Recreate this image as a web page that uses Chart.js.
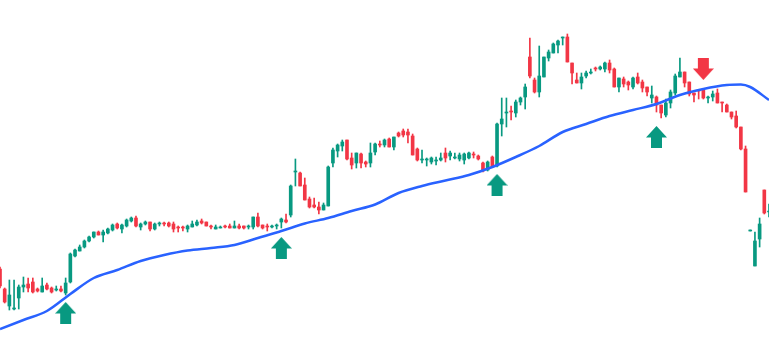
<!DOCTYPE html>
<html>
<head>
<meta charset="utf-8">
<script src="https://cdn.jsdelivr.net/npm/chart.js@4.4.1/dist/chart.umd.min.js"></script>
<style>
  html, body { margin: 0; padding: 0; background: #fff; }
  #wrap { width: 769px; height: 356px; position: relative; }
</style>
</head>
<body>
<div id="wrap"><canvas id="priceChart"></canvas></div>
<script>
// candle data, one entry per session
const opens = [
  87, 67, 50, 47, 58, 69, 72, 74, 67, 64,
  71, 68, 66, 67, 63, 74, 100, 105, 109, 115,
  119, 124, 121, 123, 126, 132, 127, 130, 135, 138,
  129, 132, 134, 127, 132, 133, 133, 132, 129, 129,
  127, 129, 131, 135, 134, 130, 127, 128, 130, 130,
  128, 130, 130, 129, 129, 139, 131, 130, 129, 130,
  134, 136, 141, 184, 183, 171, 157, 151, 149, 146,
  150, 193, 205, 210, 216, 198, 193, 202, 194, 193,
  204, 212, 211, 217, 209, 223, 225, 224, 220, 207,
  196, 196, 194, 195, 196, 203, 200, 198, 197, 196,
  198, 202, 200, 193, 186, 199, 190, 232, 243, 245,
  243, 254, 259, 299, 276, 264, 279, 298, 303, 311,
  318, 319, 293, 276, 273, 280, 283, 288, 287, 287,
  293, 287, 269, 277, 274, 269, 279, 274, 269, 258,
  259, 251, 241, 253, 263, 279, 284, 274, 263, 266,
  266, 258, 259, 263, 254, 251, 244, 240, 229, 207,
  125, 90, 117, 166, 144
];
const highs = [
  89, 68, 76, 76, 71, 79, 78, 78, 68, 78,
  73, 69, 70, 70, 78, 103, 107, 111, 116, 120,
  124, 125, 126, 128, 132, 133, 132, 137, 139, 140,
  133, 135, 134, 133, 134, 134, 134, 134, 130, 130,
  131, 135, 136, 137, 134, 131, 131, 130, 131, 132,
  135, 132, 130, 131, 139, 143, 131, 132, 131, 132,
  138, 142, 171, 197, 184, 178, 159, 158, 154, 153,
  190, 208, 212, 216, 216, 203, 203, 203, 195, 213,
  213, 215, 217, 218, 219, 224, 227, 227, 222, 208,
  206, 198, 199, 199, 203, 208, 205, 203, 203, 203,
  204, 204, 201, 194, 195, 200, 233, 258, 258, 250,
  256, 259, 272, 318, 278, 310, 299, 306, 313, 316,
  319, 322, 293, 283, 283, 285, 287, 289, 290, 294,
  296, 288, 278, 279, 275, 279, 283, 276, 269, 270,
  260, 251, 257, 266, 282, 298, 284, 274, 263, 266,
  267, 260, 265, 267, 254, 252, 244, 245, 229, 210,
  126, 124, 138, 166, 152
];
const lows = [
  68, 53, 46, 46, 47, 64, 64, 63, 64, 64,
  66, 63, 65, 64, 61, 73, 99, 105, 108, 114,
  118, 121, 114, 122, 125, 127, 123, 129, 134, 129,
  126, 131, 125, 126, 130, 130, 129, 124, 124, 125,
  124, 129, 130, 132, 130, 127, 127, 128, 128, 128,
  128, 127, 127, 127, 127, 129, 127, 125, 128, 127,
  128, 133, 139, 170, 170, 156, 148, 148, 142, 146,
  150, 189, 199, 205, 196, 187, 188, 188, 189, 189,
  201, 209, 209, 209, 206, 219, 219, 213, 201, 195,
  193, 190, 192, 191, 195, 194, 196, 197, 195, 192,
  197, 198, 196, 184, 185, 189, 189, 220, 229, 236,
  239, 251, 247, 278, 263, 259, 279, 295, 303, 303,
  311, 294, 272, 273, 267, 278, 282, 285, 286, 284,
  283, 269, 264, 269, 266, 267, 272, 264, 260, 253,
  244, 238, 239, 248, 261, 279, 269, 260, 254, 257,
  257, 253, 255, 253, 244, 244, 237, 228, 206, 164,
  125, 90, 109, 142, 139
];
const closes = [
  70, 54, 61, 48, 69, 71, 68, 64, 65, 70,
  67, 64, 67, 65, 73, 102, 106, 109, 115, 119,
  124, 121, 124, 127, 131, 128, 131, 136, 138, 130,
  132, 134, 127, 132, 133, 132, 130, 127, 128, 128,
  130, 132, 134, 133, 130, 129, 129, 129, 129, 128,
  130, 128, 128, 130, 139, 130, 128, 129, 130, 131,
  137, 134, 170, 185, 170, 156, 149, 149, 146, 151,
  189, 206, 211, 214, 197, 191, 203, 193, 192, 203,
  212, 211, 216, 209, 219, 220, 221, 221, 201, 196,
  197, 197, 198, 196, 198, 198, 203, 199, 201, 202,
  203, 201, 197, 185, 194, 189, 232, 237, 244, 244,
  254, 258, 269, 280, 264, 280, 299, 304, 312, 315,
  319, 294, 283, 273, 279, 283, 284, 287, 289, 293,
  286, 269, 278, 272, 271, 278, 273, 268, 264, 261,
  251, 243, 253, 264, 280, 284, 273, 262, 261, 265,
  258, 259, 262, 253, 253, 244, 239, 229, 207, 164,
  126, 115, 132, 143, 145
];

// moving average, read at every fifth session
const maIndex = [0, 5, 10, 15, 20, 25, 30, 35, 40, 45, 50, 55, 60, 65, 70, 75, 80, 85,
  90, 95, 100, 105, 110, 115, 120, 125, 130, 135, 140, 145, 150, 155, 158, 160, 164];
const maValue = [27, 36, 45, 62, 78, 86, 95, 101, 105.5, 108, 111, 118, 125, 132.5, 138, 145, 151.5, 163,
  170, 175.5, 181, 189, 199, 210, 224, 232, 240, 246, 252, 261, 267, 271, 271.5, 269, 256];

// signals
const buyIndex = [14, 60, 106, 140];
const buyLevel = [43, 108, 171, 219];
const sellIndex = [150];
const sellLevel = [287];

const labels = opens.map((_, i) => String(i));

const UP = '#089981';
const DOWN = '#F23645';
const MA_COLOR = '#2962FF';

function candleColor(i) {
    return closes[i] >= opens[i] ? UP : DOWN;
}

function makeArrow(color, up) {
    const c = document.createElement('canvas');
    c.width = 21;
    c.height = 22;
    const g = c.getContext('2d');
    g.fillStyle = color;
    g.beginPath();
    if (up) {
        g.moveTo(10.5, 0);
        g.lineTo(21, 11.5);
        g.lineTo(16, 11.5);
        g.lineTo(16, 22);
        g.lineTo(5, 22);
        g.lineTo(5, 11.5);
        g.lineTo(0, 11.5);
    } else {
        g.moveTo(5, 0);
        g.lineTo(16, 0);
        g.lineTo(16, 10.5);
        g.lineTo(21, 10.5);
        g.lineTo(10.5, 22);
        g.lineTo(0, 10.5);
        g.lineTo(5, 10.5);
    }
    g.closePath();
    g.fill();
    return c;
}

const upArrow = makeArrow(UP, true);
const downArrow = makeArrow(DOWN, false);

const ctx = document.getElementById('priceChart').getContext('2d');

new Chart(ctx, {
    type: 'bar',
    data: {
        labels: labels,
        datasets: [
            {
                type: 'line',
                label: 'Buy',
                data: buyIndex.map((idx, k) => ({ x: labels[idx], y: buyLevel[k] })),
                showLine: false,
                pointStyle: upArrow,
                pointRadius: 10,
                order: 0,
            },
            {
                type: 'line',
                label: 'Sell',
                data: sellIndex.map((idx, k) => ({ x: labels[idx], y: sellLevel[k] })),
                showLine: false,
                pointStyle: downArrow,
                pointRadius: 10,
                order: 0,
            },
            {
                type: 'line',
                label: 'MA',
                data: maIndex.map((idx, k) => ({ x: labels[idx], y: maValue[k] })),
                borderColor: MA_COLOR,
                borderWidth: 2.5,
                pointRadius: 0,
                spanGaps: true,
                cubicInterpolationMode: 'monotone',
                order: 1,
            },
            {
                label: 'Body',
                data: opens.map((o, i) => [o, closes[i]]),
                backgroundColor: opens.map((o, i) => candleColor(i)),
                barThickness: 3,
                minBarLength: 1,
                grouped: false,
                order: 2,
            },
            {
                label: 'Wick',
                data: lows.map((l, i) => [l, highs[i]]),
                backgroundColor: lows.map((l, i) => candleColor(i)),
                barThickness: 1,
                grouped: false,
                order: 3,
            },
        ],
    },
    options: {
        responsive: true,
        maintainAspectRatio: false,
        animation: false,
        layout: { padding: 0, autoPadding: false },
        plugins: {
            legend: { display: false },
            tooltip: { enabled: false },
        },
        scales: {
            x: {
                display: false,
                offset: false,
                grid: { display: false, offset: false },
            },
            y: {
                display: false,
                min: 0,
                max: 356,
            },
        },
    },
});
</script>
</body>
</html>
